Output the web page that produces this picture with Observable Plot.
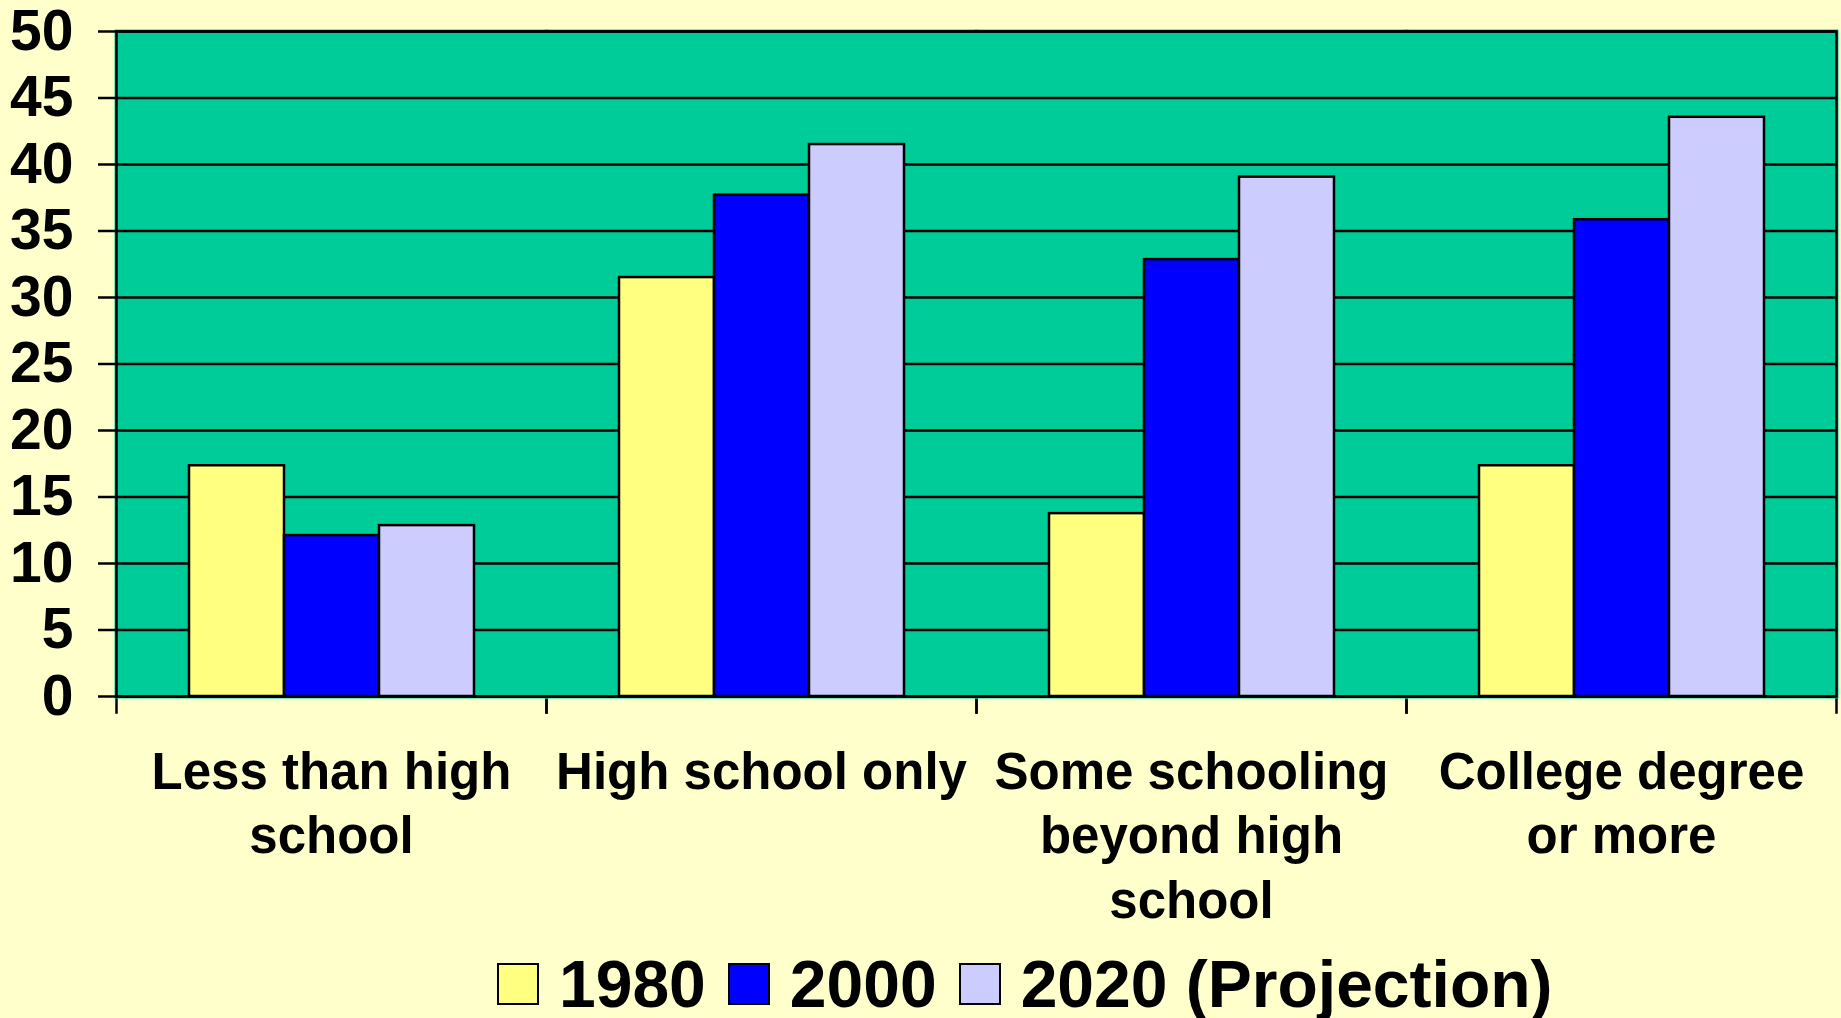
<!DOCTYPE html>
<html>
<head>
<meta charset="utf-8">
<script src="https://cdn.jsdelivr.net/npm/d3@7"></script>
<script src="https://cdn.jsdelivr.net/npm/@observablehq/plot@0.6"></script>
<style>
  html, body { margin: 0; padding: 0; background: #FFFFCC; }
  body { width: 1841px; height: 1018px; position: relative; overflow: hidden;
         font-family: "Liberation Sans", Arial, sans-serif; font-weight: bold; color: #000; }
  #chart { position: absolute; left: 0; top: 0; }
  #legend { position: absolute; left: 497px; top: 951px; height: 66px;
            display: flex; align-items: center; font-size: 66px; line-height: 1; }
  .item { display: flex; align-items: center; margin-right: 22px; }
  .sw { width: 38px; height: 38px; border: 2px solid #000; margin-right: 20px; }
</style>
</head>
<body>
<div id="chart"></div>
<div id="legend"></div>
<script>
const categories = ["Less than high school", "High school only", "Some schooling beyond high school", "College degree or more"];
const categoryLabels = ["Less than high\nschool", "High school only", "Some schooling\nbeyond high\nschool", "College degree\nor more"];
const years = ["1980", "2000", "2020"];
const yearLabels = ["1980", "2000", "2020 (Projection)"];
const values1980 = [17.35, 31.5, 13.75, 17.35];
const values2000 = [12.1, 37.7, 32.85, 35.85];
const values2020 = [12.85, 41.5, 39.05, 43.55];
const yTicks = [0, 5, 10, 15, 20, 25, 30, 35, 40, 45, 50];
const colors = ["#FFFF80", "#0000FF", "#CCCCFF"];

const series = [values1980, values2000, values2020];
const data = [];
categories.forEach((c, i) => years.forEach((yr, j) => data.push({category: c, year: yr, value: series[j][i]})));

const font = "'Liberation Sans', Arial, sans-serif";

const plot = Plot.plot({
  width: 1841,
  height: 945,
  marginTop: 31,
  marginLeft: 116,
  marginRight: 5,
  marginBottom: 249,
  style: {background: "transparent", fontFamily: font, color: "#000", overflow: "visible"},
  fx: {domain: categories, padding: 0},
  x: {domain: years, paddingInner: 0, paddingOuter: 0.75, axis: null},
  y: {domain: [0, 50]},
  color: {domain: years, range: colors},
  marks: [
    Plot.frame({anchor: "left", stroke: "#000", strokeWidth: 2.5, insetBottom: -16}),
    Plot.frame({anchor: "right", stroke: "#000", strokeWidth: 2.5, insetBottom: -16}),
    Plot.frame({fill: "#00CC99", stroke: "#00CC99", strokeWidth: 4}),
    Plot.gridY(yTicks, {stroke: "#000", strokeOpacity: 1, strokeWidth: 2.5}),
    Plot.barY(data, {fx: "category", x: "year", y: "value", fill: "year", stroke: "#000", strokeWidth: 2.5}),
    Plot.frame({facet: "super", stroke: "#000", strokeWidth: 2.5}),
    Plot.axisY(yTicks, {tickSize: 18, tickPadding: 25, strokeWidth: 2.5, fontSize: 57, fontWeight: "bold", label: null}),
    Plot.axisFx({anchor: "bottom", tickSize: 0, tickPadding: 46, fontSize: 51, fontWeight: "bold", lineHeight: 1.27, label: null,
      tickFormat: d => categoryLabels[categories.indexOf(d)]})
  ]
});
document.getElementById("chart").appendChild(plot);

const legend = d3.select("#legend");
years.forEach((yr, j) => {
  const it = legend.append("div").attr("class", "item");
  it.append("div").attr("class", "sw").style("background", plot.scale("color").apply(yr));
  it.append("span").text(yearLabels[j]);
});
</script>
</body>
</html>
